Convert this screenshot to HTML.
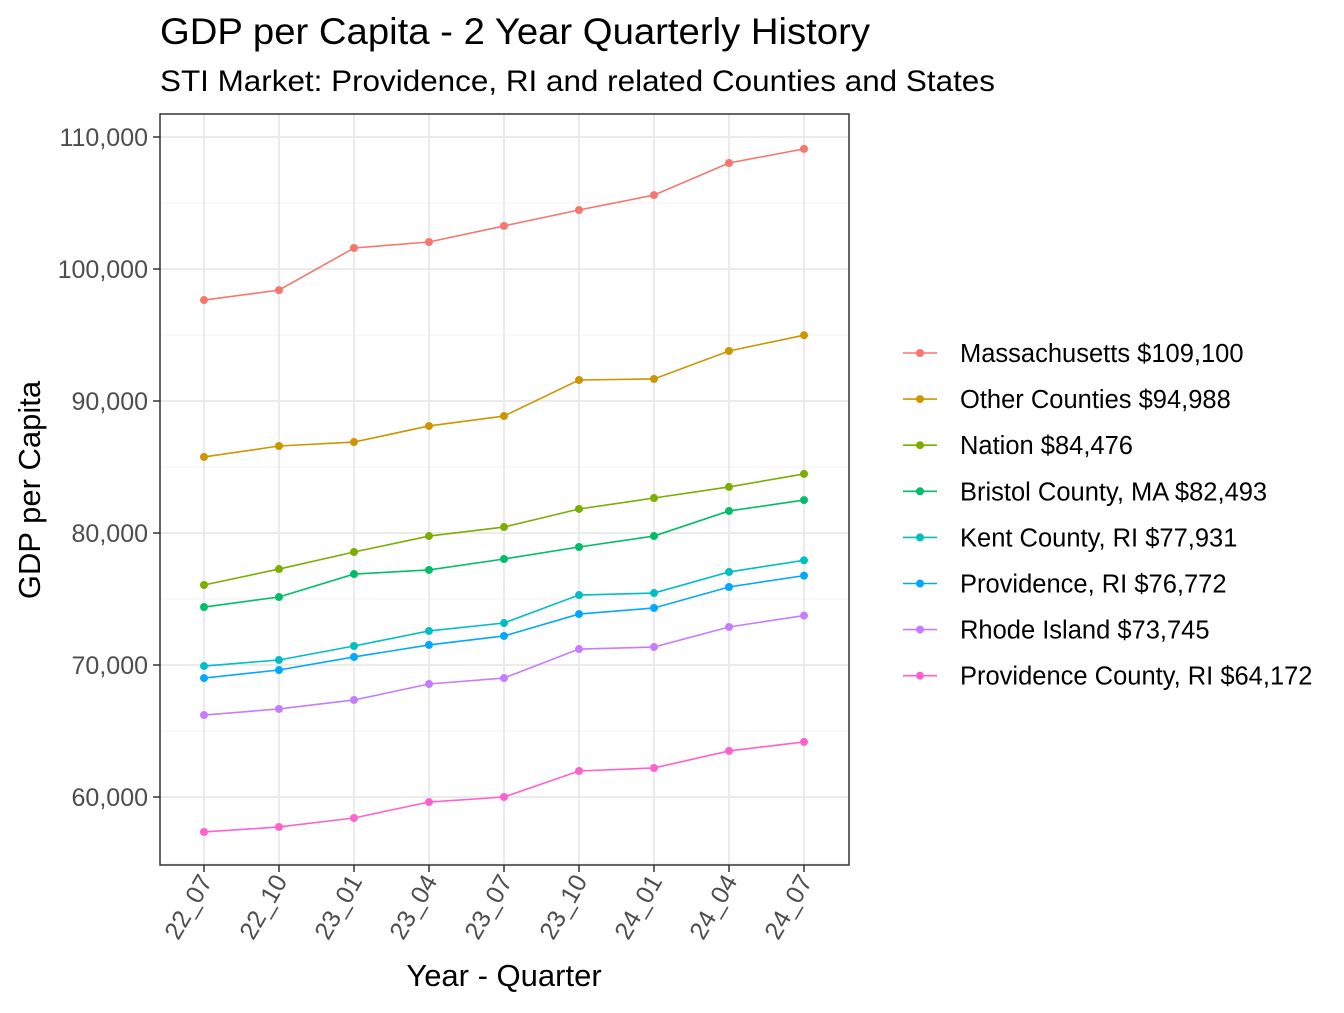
<!DOCTYPE html>
<html><head><meta charset="utf-8"><style>body{margin:0;background:#fff}svg{font-family:"Liberation Sans",Arial,sans-serif}</style></head>
<body>
<svg id="chart" width="1344" height="1008" viewBox="0 0 1344 1008" xmlns="http://www.w3.org/2000/svg">
<text x="160" y="44" font-size="37" textLength="710" lengthAdjust="spacingAndGlyphs" fill="#000">GDP per Capita - 2 Year Quarterly History</text>
<text x="160" y="91" font-size="30" textLength="835" lengthAdjust="spacingAndGlyphs" fill="#000">STI Market: Providence, RI and related Counties and States</text>
<g id="grid"></g><g id="series"></g><g id="axes"></g><g id="legend"></g>
<text transform="translate(40,490) rotate(-90)" text-anchor="middle" font-size="31">GDP per Capita</text>
<text x="504" y="986" text-anchor="middle" font-size="31">Year - Quarter</text>
</svg>
<script>
const categories=["22_07","22_10","23_01","23_04","23_07","23_10","24_01","24_04","24_07"];
const seriesNames=["Massachusetts $109,100","Other Counties $94,988","Nation $84,476","Bristol County, MA $82,493","Kent County, RI $77,931","Providence, RI $76,772","Rhode Island $73,745","Providence County, RI $64,172"];
const massachusetts=[97650,98400,101590,102045,103260,104470,105600,108030,109100];
const otherCounties=[85760,86590,86890,88110,88860,91590,91670,93790,94988];
const nation=[76060,77270,78560,79770,80450,81820,82650,83490,84476];
const bristol=[74390,75150,76890,77200,78030,78940,79770,81670,82493];
const kent=[69920,70380,71440,72580,73180,75300,75450,77050,77931];
const providence=[69010,69620,70610,71520,72200,73860,74320,75910,76772];
const rhodeIsland=[66210,66670,67350,68560,69010,71210,71360,72880,73745];
const provCounty=[57350,57730,58410,59620,60000,61970,62200,63490,64172];
const yTicks=[60000,70000,80000,90000,100000,110000];
const yMinor=[55000,65000,75000,85000,95000,105000];
const allSeries=[massachusetts,otherCounties,nation,bristol,kent,providence,rhodeIsland,provCounty];
const colors=["#F8766D","#CD9600","#7CAE00","#00BE67","#00BFC4","#00A9FF","#C77CFF","#FF61CC"];
const NS="http://www.w3.org/2000/svg";
const PL=160,PR=849,PT=114,PB=865;
const x=i=>204+i*75;
const y=v=>797-(v-60000)/10000*132;
function mk(tag,attrs,parent){const e=document.createElementNS(NS,tag);for(const k in attrs)e.setAttribute(k,attrs[k]);parent.appendChild(e);return e;}
const grid=document.getElementById('grid'),ser=document.getElementById('series'),axes=document.getElementById('axes'),leg=document.getElementById('legend');
const bg=mk('rect',{x:PL,y:PT,width:PR-PL,height:PB-PT,fill:'#fff'},grid);


yMinor.forEach(v=>{const l=mk('line',{x1:PL,x2:PR,y1:y(v),y2:y(v),stroke:'#f0f0f0','stroke-width':1},grid);

});
yTicks.forEach(v=>{const l=mk('line',{x1:PL,x2:PR,y1:y(v),y2:y(v),stroke:'#ebebeb','stroke-width':2},grid);


const t=mk('line',{x1:PL-7,x2:PL,y1:y(v),y2:y(v),stroke:'#333','stroke-width':1.5},axes);


const tx=mk('text',{x:PL-12,y:y(v)+9,'text-anchor':'end','font-size':25,fill:'#4d4d4d'},axes);tx.textContent=v.toLocaleString('en-US');

});
categories.forEach((c,i)=>{const l=mk('line',{x1:x(i),x2:x(i),y1:PT,y2:PB,stroke:'#ebebeb','stroke-width':2},grid);


const t=mk('line',{x1:x(i),x2:x(i),y1:PB,y2:PB+7,stroke:'#333','stroke-width':1.5},axes);


const tx=mk('text',{transform:`translate(${x(i)+9},${PB+16}) rotate(-60)`,'text-anchor':'end','font-size':25,fill:'#4d4d4d'},axes);tx.textContent=c;

});
const border=mk('rect',{x:PL,y:PT,width:PR-PL,height:PB-PT,fill:'none',stroke:'#333','stroke-width':1.5},axes);


allSeries.forEach((s,k)=>{const g=mk('g',{},ser);


const p=mk('polyline',{points:s.map((v,i)=>x(i)+','+y(v)).join(' '),fill:'none',stroke:colors[k],'stroke-width':1.6},g);


s.forEach((v,i)=>{const c=mk('circle',{cx:x(i),cy:y(v),r:4,fill:colors[k]},g);

});
const ly=353+k*46.1;
const lg=mk('g',{},leg);


mk('line',{x1:903,x2:937,y1:ly,y2:ly,stroke:colors[k],'stroke-width':1.6},lg);
mk('circle',{cx:920,cy:ly,r:4,fill:colors[k]},lg);
const t=mk('text',{x:960,y:ly+9,'font-size':25.5,fill:'#000'},lg);t.textContent=seriesNames[k];});
</script>
</body></html>
